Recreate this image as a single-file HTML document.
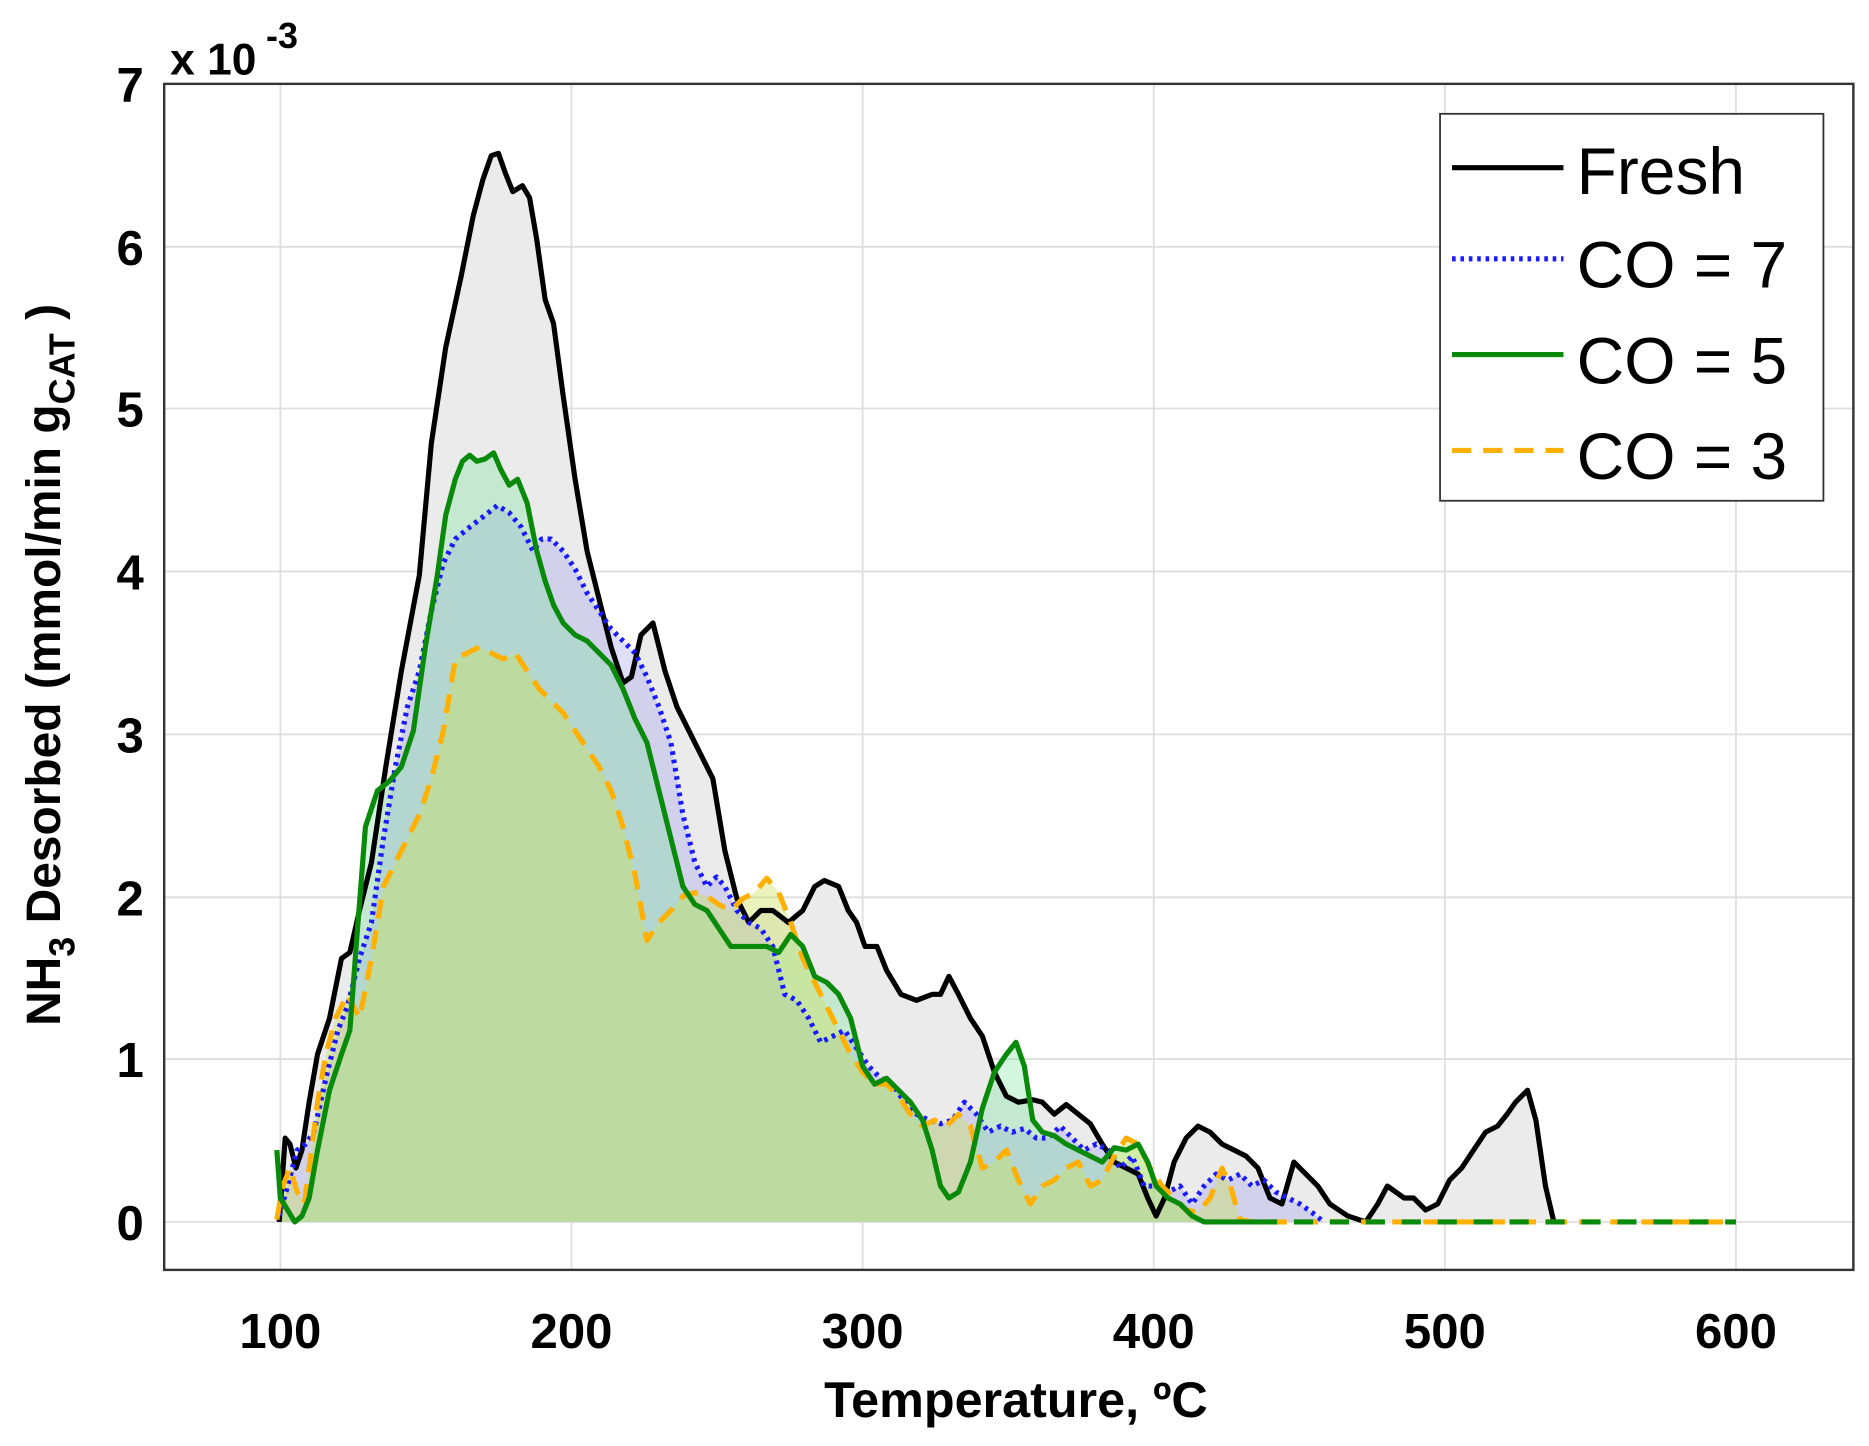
<!DOCTYPE html>
<html><head><meta charset="utf-8"><style>html,body{margin:0;padding:0;background:#fff}svg{display:block}text{font-family:"Liberation Sans",Arial,sans-serif;font-weight:bold;fill:#000}</style></head><body>
<svg width="1869" height="1446" viewBox="0 0 1560 1207" xmlns="http://www.w3.org/2000/svg">
<rect x="0" y="0" width="1560" height="1207" fill="#fff"/>
<rect x="137" y="70" width="1410" height="990" fill="#fff"/>
<g stroke="#dedede" stroke-width="1.5">
<line x1="234" y1="70" x2="234" y2="1060"/><line x1="477" y1="70" x2="477" y2="1060"/><line x1="720" y1="70" x2="720" y2="1060"/><line x1="963" y1="70" x2="963" y2="1060"/><line x1="1206" y1="70" x2="1206" y2="1060"/><line x1="1449" y1="70" x2="1449" y2="1060"/>
<line x1="137" y1="1020" x2="1547" y2="1020"/><line x1="137" y1="884" x2="1547" y2="884"/><line x1="137" y1="749" x2="1547" y2="749"/><line x1="137" y1="613" x2="1547" y2="613"/><line x1="137" y1="477" x2="1547" y2="477"/><line x1="137" y1="341" x2="1547" y2="341"/><line x1="137" y1="206" x2="1547" y2="206"/>
</g>
<polygon fill="#ebebeb" points="233,1020 238,950 242,955 247,975 252,960 258,920 265,880 275,850 285,800 292,795 300,760 310,720 322,640 335,560 350,480 360,370 372,290 385,230 395,180 403,150 410,130 416,128 422,145 428,160 436,155 442,165 448,200 455,250 462,270 470,330 480,400 490,460 500,500 510,540 520,570 527,565 535,530 545,520 555,560 565,590 575,610 585,630 595,650 605,710 615,750 625,770 635,760 645,760 658,770 670,760 680,740 688,735 700,740 708,760 715,770 722,790 732,790 740,810 752,830 765,835 778,830 785,830 792,815 800,830 810,850 820,865 830,895 840,915 850,920 862,918 870,920 880,930 890,922 900,930 910,938 920,955 930,970 940,975 950,980 958,1000 965,1015 972,1000 980,970 990,950 1000,940 1010,945 1020,955 1030,960 1040,965 1050,975 1060,1000 1070,1005 1080,970 1090,980 1100,990 1110,1005 1125,1015 1140,1020 1150,1005 1158,990 1165,995 1172,1000 1180,1000 1190,1010 1200,1005 1210,985 1220,975 1230,960 1240,945 1250,940 1258,930 1265,920 1275,910 1282,935 1290,990 1297,1020"/>
<polygon fill="rgba(150,150,235,0.3)" points="233,1020 233,1015 240,990 248,960 255,955 262,945 272,900 282,860 290,840 300,800 310,770 320,700 330,640 340,590 350,560 360,510 370,470 380,450 392,440 405,430 415,422 425,428 435,440 445,460 452,450 460,450 470,460 480,475 490,495 500,510 510,525 520,535 530,545 540,565 550,590 560,620 570,680 580,720 590,740 598,732 605,740 615,760 625,770 635,775 645,790 655,830 665,835 675,850 685,870 695,865 705,860 715,875 725,890 735,900 745,905 755,920 765,930 775,935 785,938 795,935 805,920 815,930 825,945 835,940 845,945 855,942 865,950 875,950 885,940 895,950 905,960 915,955 925,960 935,975 945,965 955,990 965,990 975,995 985,990 995,1005 1005,990 1015,980 1025,985 1035,980 1045,990 1055,985 1065,995 1075,1000 1085,1005 1095,1012 1105,1020"/>
<polygon fill="rgba(110,225,150,0.3)" points="231,1020 231,960 234,1000 240,1010 246,1020 252,1015 258,1000 265,960 275,910 285,880 292,860 298,780 305,690 315,660 325,652 335,640 345,610 355,540 365,480 372,430 380,400 386,385 392,380 398,385 405,383 412,378 418,392 425,405 432,400 440,420 448,460 455,485 462,505 470,520 480,530 490,535 500,545 510,555 520,575 530,600 540,620 550,660 560,700 570,740 580,755 590,760 600,775 610,790 620,790 630,790 640,790 650,795 660,780 670,790 680,815 690,820 700,830 710,850 720,890 730,905 740,900 750,910 760,920 770,935 778,960 785,990 792,1000 800,995 810,970 820,925 830,895 840,880 848,870 855,890 862,935 870,945 880,948 890,955 900,960 910,965 920,970 930,958 940,960 950,955 958,970 965,990 975,1000 985,1005 995,1015 1005,1020"/>
<polygon fill="rgba(205,225,90,0.4)" points="231,1020 231,1018 236,990 242,975 248,995 254,1005 260,960 265,920 272,880 280,850 290,830 300,850 310,800 320,740 330,720 340,700 350,680 360,650 370,610 380,550 390,545 400,540 410,545 420,550 430,545 440,560 450,575 460,585 470,595 480,610 490,625 500,640 510,660 520,690 530,730 540,785 550,770 560,760 570,748 580,745 590,748 600,755 610,760 620,750 630,745 640,733 650,745 660,770 670,800 680,820 690,840 700,860 710,880 720,895 730,905 740,905 750,915 760,930 770,940 780,935 790,940 800,930 810,940 820,975 830,970 840,960 850,985 860,1005 870,990 880,985 890,975 900,970 910,990 920,985 930,965 940,950 950,955 960,975 970,990 980,1000 990,1010 1000,1012 1010,1000 1020,975 1027,990 1035,1018 1045,1020"/>
<g fill="none" stroke-linejoin="round" stroke-width="4.3">
<polyline stroke="#000" points="233,1020 238,950 242,955 247,975 252,960 258,920 265,880 275,850 285,800 292,795 300,760 310,720 322,640 335,560 350,480 360,370 372,290 385,230 395,180 403,150 410,130 416,128 422,145 428,160 436,155 442,165 448,200 455,250 462,270 470,330 480,400 490,460 500,500 510,540 520,570 527,565 535,530 545,520 555,560 565,590 575,610 585,630 595,650 605,710 615,750 625,770 635,760 645,760 658,770 670,760 680,740 688,735 700,740 708,760 715,770 722,790 732,790 740,810 752,830 765,835 778,830 785,830 792,815 800,830 810,850 820,865 830,895 840,915 850,920 862,918 870,920 880,930 890,922 900,930 910,938 920,955 930,970 940,975 950,980 958,1000 965,1015 972,1000 980,970 990,950 1000,940 1010,945 1020,955 1030,960 1040,965 1050,975 1060,1000 1070,1005 1080,970 1090,980 1100,990 1110,1005 1125,1015 1140,1020 1150,1005 1158,990 1165,995 1172,1000 1180,1000 1190,1010 1200,1005 1210,985 1220,975 1230,960 1240,945 1250,940 1258,930 1265,920 1275,910 1282,935 1290,990 1297,1020"/>
<polyline stroke="#1a1aff" stroke-dasharray="3,4" points="233,1015 240,990 248,960 255,955 262,945 272,900 282,860 290,840 300,800 310,770 320,700 330,640 340,590 350,560 360,510 370,470 380,450 392,440 405,430 415,422 425,428 435,440 445,460 452,450 460,450 470,460 480,475 490,495 500,510 510,525 520,535 530,545 540,565 550,590 560,620 570,680 580,720 590,740 598,732 605,740 615,760 625,770 635,775 645,790 655,830 665,835 675,850 685,870 695,865 705,860 715,875 725,890 735,900 745,905 755,920 765,930 775,935 785,938 795,935 805,920 815,930 825,945 835,940 845,945 855,942 865,950 875,950 885,940 895,950 905,960 915,955 925,960 935,975 945,965 955,990 965,990 975,995 985,990 995,1005 1005,990 1015,980 1025,985 1035,980 1045,990 1055,985 1065,995 1075,1000 1085,1005 1095,1012 1105,1020"/>
<polyline stroke="#ffb000" stroke-dasharray="16,10" points="231,1018 236,990 242,975 248,995 254,1005 260,960 265,920 272,880 280,850 290,830 300,850 310,800 320,740 330,720 340,700 350,680 360,650 370,610 380,550 390,545 400,540 410,545 420,550 430,545 440,560 450,575 460,585 470,595 480,610 490,625 500,640 510,660 520,690 530,730 540,785 550,770 560,760 570,748 580,745 590,748 600,755 610,760 620,750 630,745 640,733 650,745 660,770 670,800 680,820 690,840 700,860 710,880 720,895 730,905 740,905 750,915 760,930 770,940 780,935 790,940 800,930 810,940 820,975 830,970 840,960 850,985 860,1005 870,990 880,985 890,975 900,970 910,990 920,985 930,965 940,950 950,955 960,975 970,990 980,1000 990,1010 1000,1012 1010,1000 1020,975 1027,990 1035,1018 1045,1020 1449,1020"/>
<polyline stroke="#0a8a0a" points="231,960 234,1000 240,1010 246,1020 252,1015 258,1000 265,960 275,910 285,880 292,860 298,780 305,690 315,660 325,652 335,640 345,610 355,540 365,480 372,430 380,400 386,385 392,380 398,385 405,383 412,378 418,392 425,405 432,400 440,420 448,460 455,485 462,505 470,520 480,530 490,535 500,545 510,555 520,575 530,600 540,620 550,660 560,700 570,740 580,755 590,760 600,775 610,790 620,790 630,790 640,790 650,795 660,780 670,790 680,815 690,820 700,830 710,850 720,890 730,905 740,900 750,910 760,920 770,935 778,960 785,990 792,1000 800,995 810,970 820,925 830,895 840,880 848,870 855,890 862,935 870,945 880,948 890,955 900,960 910,965 920,970 930,958 940,960 950,955 958,970 965,990 975,1000 985,1005 995,1015 1005,1020 1050,1020"/>
<polyline stroke="#0a8a0a" stroke-dasharray="16,14" points="1050,1020 1449,1020"/>
</g>
<rect x="137" y="70" width="1410" height="990" fill="none" stroke="#333" stroke-width="2"/>
<g font-size="41" text-anchor="end">
<text x="120" y="1035">0</text><text x="120" y="899">1</text><text x="120" y="764">2</text><text x="120" y="628">3</text><text x="120" y="492">4</text><text x="120" y="356">5</text><text x="120" y="221">6</text><text x="120" y="85">7</text>
</g>
<text x="142" y="62" font-size="37">x 10</text><text x="222" y="40" font-size="30">-3</text>
<g font-size="41" text-anchor="middle">
<text x="234" y="1125">100</text><text x="477" y="1125">200</text><text x="720" y="1125">300</text><text x="963" y="1125">400</text><text x="1206" y="1125">500</text><text x="1449" y="1125">600</text>
</g>
<text x="848" y="1183" font-size="42" text-anchor="middle" fill="#222">Temperature, ºC</text>
<text transform="translate(50,555) rotate(-90)" font-size="40" text-anchor="middle" fill="#222">NH<tspan font-size="30" dy="12">3</tspan><tspan dy="-12"> Desorbed (mmol/min g</tspan><tspan font-size="30" dy="12">CAT</tspan><tspan dy="-12"> )</tspan></text>
<rect x="1202" y="95" width="320" height="323" fill="#fff" stroke="#333" stroke-width="1.5"/>
<g stroke-width="4.3">
<line x1="1212" y1="140" x2="1305" y2="140" stroke="#000"/>
<line x1="1212" y1="216" x2="1305" y2="216" stroke="#1a1aff" stroke-dasharray="3,4"/>
<line x1="1212" y1="296" x2="1305" y2="296" stroke="#0a8a0a"/>
<line x1="1212" y1="376" x2="1305" y2="376" stroke="#ffb000" stroke-dasharray="16,10"/>
</g>
<g font-size="55">
<text x="1316" y="162" style="font-weight:normal">Fresh</text>
<text x="1316" y="240" style="font-weight:normal">CO = 7</text>
<text x="1316" y="320" style="font-weight:normal">CO = 5</text>
<text x="1316" y="400" style="font-weight:normal">CO = 3</text>
</g>
</svg>
</body></html>
